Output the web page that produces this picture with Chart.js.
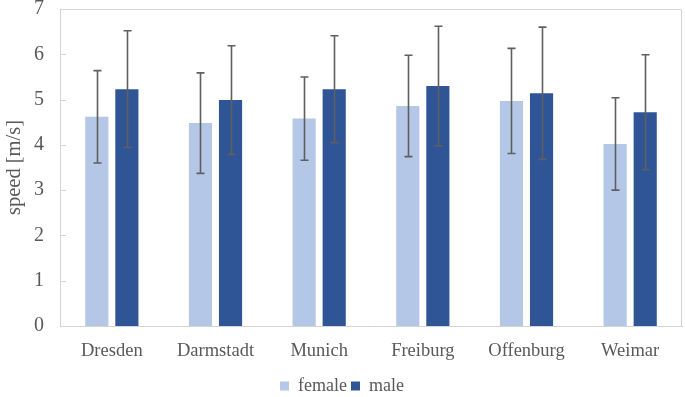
<!DOCTYPE html>
<html>
<head>
<meta charset="utf-8">
<script src="https://cdn.jsdelivr.net/npm/chart.js@4/dist/chart.umd.min.js"></script>
<style>
  html, body { margin: 0; padding: 0; background: #fff; }
  #wrap { width: 685px; height: 397px; position: relative; }
</style>
</head>
<body>
<div id="wrap"><canvas id="speedChart"></canvas></div>
<script>
const cities = ['Dresden', 'Darmstadt', 'Munich', 'Freiburg', 'Offenburg', 'Weimar'];
const femaleMean = [4.62, 4.48, 4.58, 4.86, 4.97, 4.02];
const femaleSd = [1.02, 1.11, 0.92, 1.12, 1.16, 1.02];
const maleMean = [5.23, 4.99, 5.23, 5.30, 5.14, 4.72];
const maleSd = [1.29, 1.20, 1.18, 1.32, 1.46, 1.27];
const yTicks = [0, 1, 2, 3, 4, 5, 6, 7];

const textColor = '#595959';
const serif = "'Liberation Serif', 'DejaVu Serif', serif";

// error bars + frame + inside ticks
const extras = {
    id: 'extras',
    afterLayout(chart) {
        // push the legend a little lower, like the original
        if (chart.legend) {
            chart.legend.top += 8;
            chart.legend.bottom += 8;
        }
    },
    afterDatasetsDraw(chart) {
        const ctx = chart.ctx;
        const y = chart.scales.y;
        const area = chart.chartArea;
        const sds = [femaleSd, maleSd];

        ctx.save();
        ctx.strokeStyle = '#d4d4d4';
        ctx.lineWidth = 1;
        ctx.beginPath();
        ctx.moveTo(area.left, area.top + 0.5);
        ctx.lineTo(area.right - 0.5, area.top + 0.5);
        ctx.lineTo(area.right - 0.5, area.bottom);
        ctx.stroke();

        // small inward ticks on the value axis
        y.ticks.forEach(t => {
            const py = Math.round(y.getPixelForValue(t.value)) + 0.5;
            ctx.beginPath();
            ctx.moveTo(area.left, py);
            ctx.lineTo(area.left + 6, py);
            ctx.stroke();
        });

        ctx.strokeStyle = '#5f5f5f';
        ctx.lineWidth = 1.6;
        chart.data.datasets.forEach((ds, di) => {
            const meta = chart.getDatasetMeta(di);
            meta.data.forEach((bar, i) => {
                const v = ds.data[i];
                const sd = sds[di][i];
                const x = Math.round(bar.x) + 0.5;
                const yHi = y.getPixelForValue(v + sd);
                const yLo = y.getPixelForValue(v - sd);
                ctx.beginPath();
                ctx.moveTo(x, yHi);
                ctx.lineTo(x, yLo);
                ctx.moveTo(x - 4, yHi);
                ctx.lineTo(x + 4, yHi);
                ctx.moveTo(x - 4, yLo);
                ctx.lineTo(x + 4, yLo);
                ctx.stroke();
            });
        });
        ctx.restore();
    }
};

new Chart(document.getElementById('speedChart').getContext('2d'), {
    type: 'bar',
    data: {
        labels: cities,
        datasets: [
            { label: 'female', data: femaleMean, backgroundColor: '#b4c7e7' },
            { label: 'male', data: maleMean, backgroundColor: '#2f5597' }
        ]
    },
    options: {
        responsive: true, maintainAspectRatio: false,
        animation: false,
        categoryPercentage: 0.58,
        barPercentage: 0.77,
        layout: { padding: { left: 2, right: 3, top: 0, bottom: 0 } },
        scales: {
            x: {
                grid: { display: false },
                border: { color: '#d4d4d4' },
                ticks: { color: textColor, font: { family: serif, size: 18.5 }, padding: 6 },
                afterFit: s => { s.height = 39; }
            },
            y: {
                min: 0, max: 7,
                afterBuildTicks: s => { s.ticks = yTicks.map(v => ({ value: v })); },
                grid: { display: false },
                border: { color: '#d4d4d4' },
                ticks: { color: textColor, font: { family: serif, size: 20 }, padding: 8 },
                title: { display: true, text: 'speed [m/s]', color: textColor, font: { family: serif, size: 20.5 }, padding: 0 },
                afterFit: s => { s.width = 58; s.paddingTop = 9; s.paddingBottom = 0; }
            }
        },
        plugins: {
            legend: {
                position: 'bottom',
                labels: { color: textColor, font: { family: serif, size: 18 }, boxWidth: 9, boxHeight: 9, padding: 4 }
            },
            tooltip: { enabled: false }
        }
    },
    plugins: [extras]
});
</script>
</body>
</html>
